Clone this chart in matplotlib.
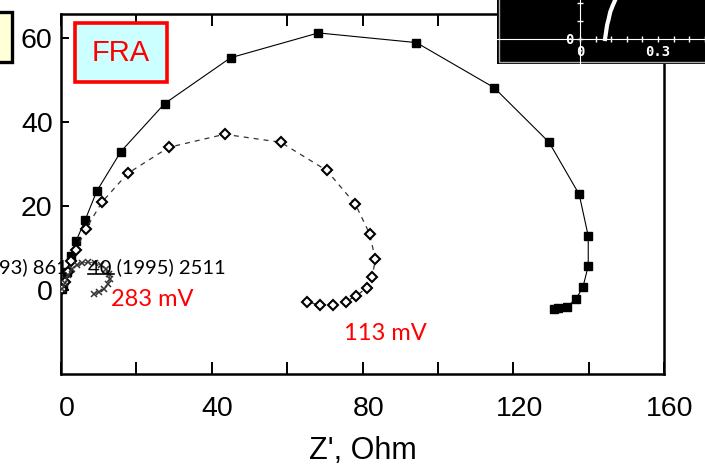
import numpy as np
import matplotlib
matplotlib.use('Agg')
import matplotlib.pyplot as plt
import matplotlib.transforms as mtransforms
from matplotlib.patches import Rectangle

# Nyquist data (Z' and -Z'' in Ohm)
sq_x = [0.3, 0.5, 1.6, 2.6, 4.0, 6.4, 9.5, 15.9, 27.5, 45.0, 68.3, 94.3, 114.9,
        129.5, 137.5, 139.9, 139.9, 138.5, 136.7, 134.3, 131.9, 130.9]
sq_y = [0.2, 1.2, 4.3, 8.1, 11.6, 16.6, 23.5, 32.9, 44.3, 55.2, 61.1, 58.8, 48.1,
        35.1, 22.7, 12.8, 5.7, 0.7, -2.1, -4.0, -4.3, -4.5]

dm_x = [0.3, 1.1, 1.9, 2.6, 4.0, 6.6, 10.9, 17.7, 28.6, 43.4, 58.3, 70.5, 78.1,
        81.9, 83.4, 82.6, 81.1, 78.4, 75.5, 72.1, 68.6, 65.2]
dm_y = [0.2, 1.9, 4.3, 6.9, 9.5, 14.5, 20.9, 27.7, 33.9, 37.0, 35.1, 28.4, 20.4,
        13.3, 7.3, 3.1, 0.5, -1.4, -2.8, -3.6, -3.6, -2.8]

cr_x = [0.3, 1.1, 1.9, 2.9, 4.2, 5.6, 7.2, 9.0, 10.6, 11.9, 12.7, 13.0, 12.5,
        11.4, 10.1, 8.7]
cr_y = [0.2, 1.7, 3.6, 5.0, 5.9, 6.4, 6.6, 6.4, 5.9, 5.0, 3.8, 2.6, 1.4,
        0.2, -0.5, -0.9]

x_ticks = [0, 40, 80, 120, 160]
y_ticks = [0, 20, 40, 60]

# inset curve (top-right thumbnail)
ins_x = [0.096, 0.100, 0.104, 0.110, 0.116, 0.125, 0.135]
ins_y = [0, 7, 14, 20, 27, 33, 39]

W, H = 705, 476


def fx(x):
    return x / W


def fy(y):
    return 1 - y / H


fig = plt.figure(figsize=(W / 100, H / 100), dpi=100)
ax = fig.add_axes([fx(61), fy(374), fx(664) - fx(61), fy(14) - fy(374)])

ax.plot(sq_x, sq_y, '-', color='black', lw=0.8, marker='s', ms=5.8,
        mfc='black', mec='black', zorder=3)
ax.plot(dm_x, dm_y, '--', color='#333333', lw=0.9, dashes=(4, 4), marker='D',
        ms=5.5, mfc='white', mec='black', mew=1.5, zorder=3)
ax.plot(cr_x, cr_y, '-', color='#444444', lw=0.7, marker='x', ms=4.5,
        mec='#333333', mew=1.1, zorder=3)

ax.set_xlim(0, 160)
ax.set_ylim(-20, 65.6)
ax.set_xticks(np.arange(0, 161, 20))
ax.set_xticklabels([str(v) if v in x_ticks else '' for v in range(0, 161, 20)])
ax.set_yticks(y_ticks)
ax.tick_params(axis='x', direction='in', length=8.5, width=1.4, top=True,
               pad=16, labelsize=20.5)
ax.tick_params(axis='y', direction='in', length=6, width=1.4, pad=6, labelsize=20.5)
shift = mtransforms.ScaledTranslation(6 / 100, 0, fig.dpi_scale_trans)
for lab in ax.get_xticklabels():
    lab.set_family('Liberation Sans')
    lab.set_transform(lab.get_transform() + shift)
for lab in ax.get_yticklabels():
    lab.set_family('Liberation Sans')
for s in ax.spines.values():
    s.set_linewidth(1.8)
ax.set_xlabel("Z', Ohm", fontsize=22, family='Liberation Sans', labelpad=10)

# yellow box cut at the left edge
fig.patches.append(Rectangle((fx(-20), fy(62)), fx(32), fy(12) - fy(62),
                             transform=fig.transFigure, fc='#ffffd8', ec='black',
                             lw=2.4, zorder=5))

# FRA label
fig.patches.append(Rectangle((fx(75), fy(82)), fx(92), fy(23) - fy(82),
                             transform=fig.transFigure, fc='#ccffff', ec='red',
                             lw=2.6, zorder=5))
fig.text(fx(121), fy(53), 'FRA', color='red', fontsize=21, family='Liberation Sans',
         ha='center', va='center', zorder=6)

# overlaid citation and voltage labels
fig.text(fx(-1), fy(267), '93) 861', fontsize=14.5, family='Lato', ha='left',
         va='center', zorder=6)
fig.text(fx(88), fy(267), '40 (1995) 2511', fontsize=14.5, family='Lato', ha='left',
         va='center', zorder=6)
fig.add_artist(plt.Line2D([fx(88), fx(114)], [fy(274), fy(274)], color='black',
                          lw=1.2, transform=fig.transFigure, zorder=6))
fig.text(fx(152), fy(300), '283 mV', fontsize=17, family='Lato', color='red',
         ha='center', va='center', zorder=6)
fig.text(fx(385), fy(333), '113 mV', fontsize=17, family='Lato', color='red',
         ha='center', va='center', zorder=6)

# black thumbnail at top right
ia = fig.add_axes([fx(497), fy(64), fx(W) - fx(497), fy(0) - fy(64)], zorder=10)
ia.set_facecolor('black')
ia.set_xlim(-0.32, 0.481)
ia.set_ylim(-25, 39)
ia.plot(ins_x, ins_y, color='white', lw=3)
for side in ['top', 'right']:
    ia.spines[side].set_visible(False)
ia.spines['left'].set_position(('data', 0))
ia.spines['bottom'].set_position(('data', 0))
ia.spines['left'].set_color('white')
ia.spines['bottom'].set_color('white')
ia.set_xticks(np.arange(0, 0.49, 0.06))
ia.set_xticklabels(['0', '', '', '', '', '0.3', '', '', ''])
ia.set_yticks([0, 18, 36])
ia.set_yticklabels(['0', '', ''])
ia.tick_params(colors='white', direction='inout', length=5, width=1, labelsize=10,
               pad=2)
for lab in ia.get_xticklabels() + ia.get_yticklabels():
    lab.set_family('DejaVu Sans Mono')
    lab.set_weight('bold')
ia.add_patch(Rectangle((0.012, 0.03), 1.2, 1.2, transform=ia.transAxes, fill=False,
                       ec='#aaaaaa', lw=1, clip_on=True))

fig.savefig('out.png', dpi=100)
